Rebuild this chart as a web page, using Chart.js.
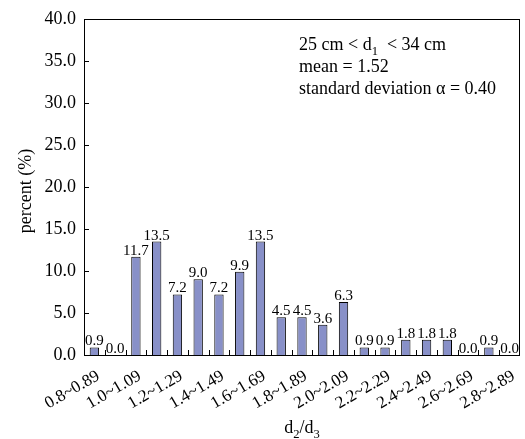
<!DOCTYPE html>
<html>
<head>
<meta charset="utf-8">
<script src="https://cdn.jsdelivr.net/npm/chart.js@4"></script>
<style>
	body { margin: 0; background: #fff; }
	#wrap { width: 525px; height: 439px; }
</style>
</head>
<body>
<div id="wrap"><canvas id="hist"></canvas></div>
<script>
const categories = ['0.8~0.89', '0.9~0.99', '1.0~1.09', '1.1~1.19', '1.2~1.29', '1.3~1.39', '1.4~1.49',
	'1.5~1.59', '1.6~1.69', '1.7~1.79', '1.8~1.89', '1.9~1.99', '2.0~2.09', '2.1~2.19', '2.2~2.29',
	'2.3~2.39', '2.4~2.49', '2.5~2.59', '2.6~2.69', '2.7~2.79', '2.8~2.89']
const percents = [0.9, 0.0, 11.7, 13.5, 7.2, 9.0, 7.2, 9.9, 13.5, 4.5, 4.5, 3.6, 6.3, 0.9, 0.9, 1.8, 1.8, 1.8, 0.0, 0.9, 0.0]
const yTicks = [0, 5, 10, 15, 20, 25, 30, 35, 40]
const notes = ['25 cm < d|1|  < 34 cm', 'mean = 1.52', 'standard deviation \u03b1 = 0.40']

const serif = '"Liberation Serif", "Times New Roman", serif'

// draw text with |x| parts as subscripts
function drawSub(ctx, str, x, y, size, align) {
	const parts = str.split('|')
	let total = 0
	parts.forEach((p, i) => {
		ctx.font = (i % 2 ? size * 0.7 : size) + 'px ' + serif
		total += ctx.measureText(p).width
	})
	let cx = align === 'center' ? x - total / 2 : x
	ctx.textAlign = 'left'
	ctx.textBaseline = 'alphabetic'
	parts.forEach((p, i) => {
		const sub = i % 2 === 1
		ctx.font = (sub ? size * 0.7 : size) + 'px ' + serif
		ctx.fillText(p, cx, sub ? y + size * 0.25 : y)
		cx += ctx.measureText(p).width
	})
}

const decor = {
	id: 'decor',
	afterDatasetsDraw(chart) {
		const { ctx, chartArea: a, scales: { x, y } } = chart
		ctx.save()
		ctx.strokeStyle = '#000'
		ctx.lineWidth = 1
		ctx.strokeRect(Math.round(a.left) + 0.5, Math.round(a.top) + 0.5, Math.round(a.right - a.left) - 1, Math.round(a.bottom - a.top))

		// inward ticks
		ctx.beginPath()
		yTicks.forEach(v => {
			const py = Math.round(y.getPixelForValue(v)) + 0.5
			ctx.moveTo(a.left, py)
			ctx.lineTo(a.left + 5, py)
		})
		const step = x.getPixelForValue(1) - x.getPixelForValue(0)
		for (let i = 1; i < categories.length; i++) {
			const px = Math.round(x.getPixelForValue(i) - step / 2) + 0.5
			ctx.moveTo(px, a.bottom)
			ctx.lineTo(px, a.bottom - 5)
		}
		ctx.stroke()

		// value labels
		ctx.fillStyle = '#000'
		ctx.font = '15px ' + serif
		ctx.textAlign = 'center'
		ctx.textBaseline = 'alphabetic'
		const meta = chart.getDatasetMeta(0)
		meta.data.forEach((bar, i) => {
			ctx.fillText(percents[i].toFixed(1), bar.x, bar.y - 2)
		})

		// notes
		notes.forEach((n, i) => drawSub(ctx, n, 299, 50 + i * 22, 18, 'left'))

		// axis titles
		drawSub(ctx, 'd|2|/d|3', (a.left + a.right) / 2, 433, 18, 'center')
		ctx.translate(31, 191)
		ctx.rotate(-Math.PI / 2)
		ctx.font = '18px ' + serif
		ctx.textAlign = 'center'
		ctx.fillText('percent (%)', 0, 0)
		ctx.restore()
	}
}

new Chart(document.getElementById('hist'), {
	type: 'bar',
	data: {
		labels: categories,
		datasets: [{
			data: percents,
			backgroundColor: '#8890c8',
			borderColor: '#000',
			borderWidth: 1,
			borderSkipped: 'bottom',
			categoryPercentage: 1,
			barPercentage: 0.45
		}]
	},
	options: {
		responsive: true,
		maintainAspectRatio: false,
		animation: false,
		layout: { padding: { top: 18, right: 5, left: 0, bottom: 0 } },
		plugins: { legend: { display: false }, tooltip: { enabled: false } },
		scales: {
			x: {
				grid: { display: false, drawTicks: false },
				border: { display: false },
				afterFit: s => {
					s.height = 84
					s.paddingLeft = 0
					s.paddingRight = 0
				},
				ticks: {
					autoSkip: false,
					maxRotation: 30,
					minRotation: 30,
					padding: 11,
					labelOffset: 4,
					color: '#000',
					font: { family: serif, size: 17 },
					callback: (v, i) => i % 2 === 0 ? categories[i] : ''
				}
			},
			y: {
				min: 0,
				max: 40,
				grid: { display: false, drawTicks: false },
				border: { display: false },
				afterFit: s => { s.width = 84 },
				afterBuildTicks: s => { s.ticks = yTicks.map(v => ({ value: v })) },
				ticks: {
					padding: 8,
					color: '#000',
					font: { family: serif, size: 18 },
					callback: v => v.toFixed(1)
				}
			}
		}
	},
	plugins: [decor]
})
</script>
</body>
</html>
